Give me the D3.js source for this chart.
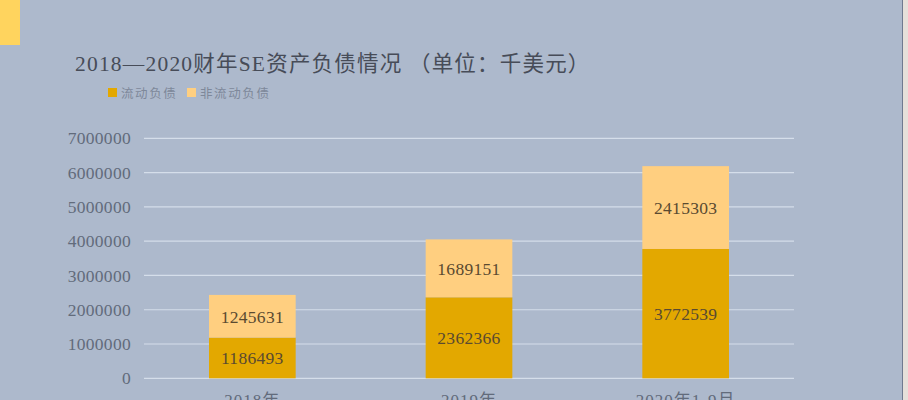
<!DOCTYPE html>
<html><head><meta charset="utf-8">
<script src="https://cdn.jsdelivr.net/npm/d3@7"></script>
<style>
html,body{margin:0;padding:0;background:#e6e0da;}
svg{display:block;}
</style></head>
<body>
<svg id="c" width="908" height="400"></svg>
<script>
const categories = ["2018年", "2019年", "2020年1-9月"];
const currentLiab = [1186493, 2362366, 3772539];
const nonCurrentLiab = [1245631, 1689151, 2415303];
const seriesNames = ["流动负债", "非流动负债"];
const yTicks = [0, 1000000, 2000000, 3000000, 4000000, 5000000, 6000000, 7000000];
const titleText = "2018—2020财年SE资产负债情况 （单位：千美元）";

const colors = ["#e3a800", "#ffcf80"];
const serif = "'Liberation Serif','Noto Sans CJK SC',serif";

const svg = d3.select("#c");
svg.append("rect").attr("x",0).attr("y",0).attr("width",902).attr("height",400).attr("fill","#adb9cc");
svg.append("line").attr("x1",902.5).attr("x2",902.5).attr("y1",0).attr("y2",400).attr("stroke","#6f7a90").attr("stroke-width",1);
svg.append("rect").attr("x",0).attr("y",0).attr("width",20).attr("height",45).attr("fill","#ffd45e");

svg.append("text").attr("x",75).attr("y",71).attr("font-family",serif).attr("font-size",21.5)
  .attr("letter-spacing",1.2).attr("fill","#474c58").text(titleText);

// legend
const leg = svg.append("g");
const legX = [108, 187];
seriesNames.forEach((n,i)=>{
  leg.append("rect").attr("x",legX[i]).attr("y",88).attr("width",9).attr("height",9).attr("fill",colors[i]);
  leg.append("text").attr("x",legX[i]+13).attr("y",97.5).attr("font-family","'Noto Sans CJK SC',sans-serif")
    .attr("font-size",12.5).attr("letter-spacing",1.6).attr("fill","#7e889a").text(n);
});

const x = d3.scaleBand().domain(categories).range([144,794]).paddingInner(0.6).paddingOuter(0.3);
const y = d3.scaleLinear().domain([0,7000000]).range([378.3,138.3]);

// gridlines
svg.append("g").selectAll("line").data(yTicks).join("line")
  .attr("x1",144).attr("x2",794).attr("y1",d=>y(d)).attr("y2",d=>y(d))
  .attr("stroke","#d5deea").attr("stroke-width",1.2);

// y axis
const yAxis = d3.axisLeft(y).tickValues(yTicks).tickFormat(d3.format("d")).tickSize(0).tickPadding(0);
const yg = svg.append("g").attr("transform","translate(131,0)").call(yAxis);
yg.select(".domain").remove();
yg.selectAll("text").attr("font-family",serif).attr("font-size",17.5).attr("letter-spacing",0.3).attr("fill","#626b7b");

// stacked bars
const data = categories.map((c,i)=>({cat:c, a:currentLiab[i], b:nonCurrentLiab[i]}));
const stack = d3.stack().keys(["a","b"])(data);
stack.forEach((layer,li)=>{
  const g = svg.append("g");
  g.selectAll("rect").data(layer).join("rect")
    .attr("x",d=>x(d.data.cat)).attr("width",x.bandwidth())
    .attr("y",d=>y(d[1])).attr("height",d=>y(d[0])-y(d[1]))
    .attr("fill",colors[li]);
  g.selectAll("text").data(layer).join("text")
    .attr("x",d=>x(d.data.cat)+x.bandwidth()/2)
    .attr("y",d=>(y(d[0])+y(d[1]))/2)
    .attr("dy","0.36em").attr("text-anchor","middle")
    .attr("font-family",serif).attr("font-size",17.5).attr("letter-spacing",0.3).attr("fill","#5a4a30")
    .text(d=>d[1]-d[0]);
});

// x axis labels
const xAxis = d3.axisBottom(x).tickSize(0).tickPadding(0);
const xg = svg.append("g").attr("transform","translate(0,392)").call(xAxis);
xg.select(".domain").remove();
xg.selectAll("text").attr("dy","0.85em").attr("font-family",serif).attr("font-size",17)
  .attr("letter-spacing",1).attr("fill","#626b7b");
</script>
</body></html>
